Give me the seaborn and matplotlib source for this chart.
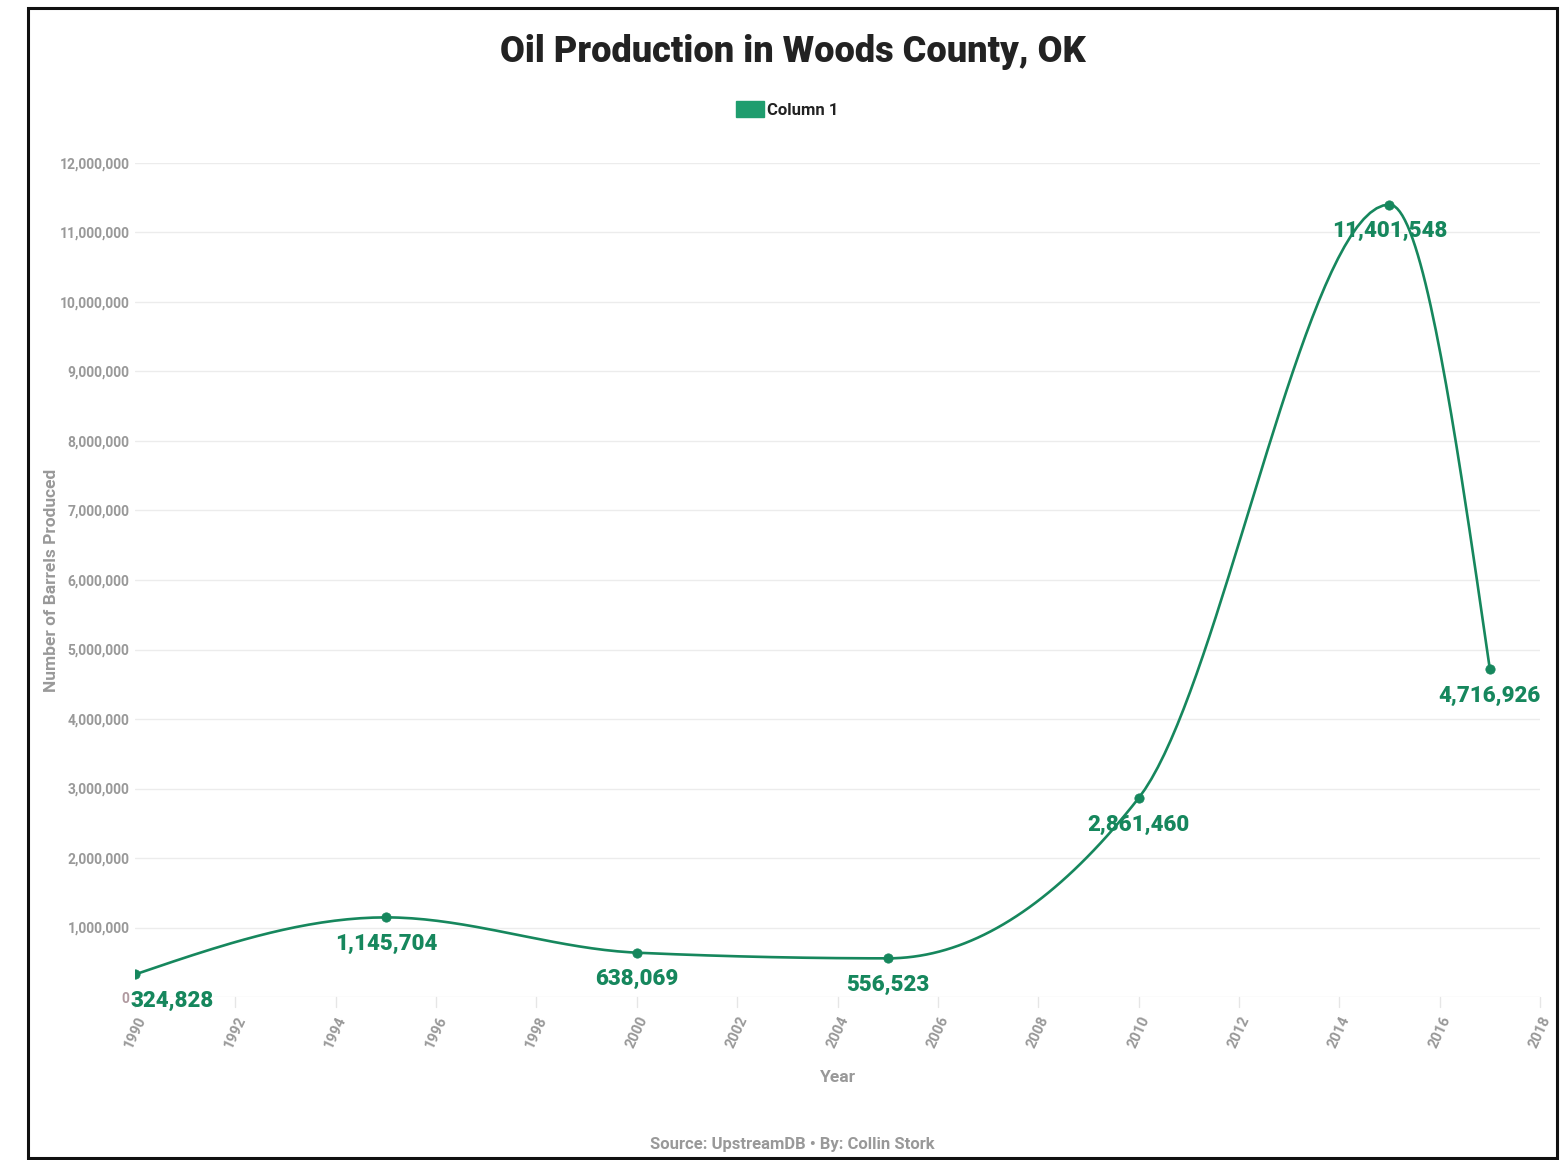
import numpy as np
import pandas as pd
import seaborn as sns
import matplotlib.pyplot as plt
from matplotlib.patches import Rectangle
from matplotlib.ticker import FuncFormatter

years = [1990, 1995, 2000, 2005, 2010, 2015, 2017]
barrels = [324828, 1145704, 638069, 556523, 2861460, 11401548, 4716926]
x_ticks = list(range(1990, 2019, 2))
y_ticks = list(range(0, 12000001, 1000000))

green = '#16875d'
legend_green = '#1f9d6e'
gray = '#999999'

sns.set_theme(style='white')
plt.rcParams['font.family'] = ['Roboto', 'DejaVu Sans']


def monotone_curve(x, y, n=40):
    # monotone cubic (like d3.curveMonotoneX), only used to draw the smooth line
    x = np.asarray(x, float)
    y = np.asarray(y, float)
    h = np.diff(x)
    s = np.diff(y) / h
    t = np.zeros(len(x))
    for i in range(1, len(x) - 1):
        p = (s[i - 1] * h[i] + s[i] * h[i - 1]) / (h[i - 1] + h[i])
        t[i] = (np.sign(s[i - 1]) + np.sign(s[i])) * min(abs(s[i - 1]), abs(s[i]), 0.5 * abs(p))
    t[0] = (3 * s[0] - t[1]) / 2
    t[-1] = (3 * s[-1] - t[-2]) / 2
    xs, ys = [], []
    for i in range(len(x) - 1):
        u = np.linspace(0, 1, n)
        h00 = 2 * u**3 - 3 * u**2 + 1
        h10 = u**3 - 2 * u**2 + u
        h01 = -2 * u**3 + 3 * u**2
        h11 = u**3 - u**2
        xs.extend(x[i] + u * h[i])
        ys.extend(h00 * y[i] + h10 * h[i] * t[i] + h01 * y[i + 1] + h11 * h[i] * t[i + 1])
    return np.array(xs), np.array(ys)


df = pd.DataFrame({'Year': years, 'Barrels': barrels})
cx, cy = monotone_curve(years, barrels)
curve = pd.DataFrame({'Year': cx, 'Barrels': cy})

fig = plt.figure(figsize=(15.63, 11.6), dpi=100)
ax = fig.add_axes([0.0864, 0.1405, 0.8989, 0.719])

sns.lineplot(data=curve, x='Year', y='Barrels', color=green, linewidth=1.9, ax=ax, sort=False)
sns.scatterplot(data=df, x='Year', y='Barrels', color=green, s=45, edgecolor=green, zorder=5, ax=ax)

for yr, val in zip(years, barrels):
    if yr == 1990:
        ax.annotate(f'{val:,}', (yr, val), xytext=(-3, -19), textcoords='offset points',
                    ha='left', va='center', fontsize=16, fontweight='heavy', color=green)
    else:
        ax.annotate(f'{val:,}', (yr, val), xytext=(0, -19), textcoords='offset points',
                    ha='center', va='center', fontsize=16, fontweight='heavy', color=green)

ax.set_xlim(1990, 2018)
ax.set_ylim(0, 12000000)
ax.set_xticks(x_ticks)
ax.set_yticks(y_ticks)
ax.yaxis.set_major_formatter(FuncFormatter(lambda v, p: f'{int(v):,}'))
ax.grid(axis='y', color='#ececec', linewidth=1)
for sp in ax.spines.values():
    sp.set_visible(False)
ax.tick_params(axis='y', length=0, labelsize=10, labelcolor=gray, pad=4)
ax.tick_params(axis='x', length=0, labelsize=10.5, labelcolor=gray, pad=12, labelrotation=65)
for lab in ax.get_yticklabels() + ax.get_xticklabels():
    lab.set_fontweight('bold')
for lab in ax.get_xticklabels():
    lab.set_ha('center')
for xt in x_ticks:
    ax.plot([xt, xt], [0, -150000], color='#e6e6e6', lw=1, clip_on=False)
ax.get_yticklabels()[0].set_color('#b09aa0')

ax.set_xlabel('Year', fontsize=12.5, fontweight='bold', color=gray, labelpad=14)
ax.set_ylabel('Number of Barrels Produced', fontsize=12.5, fontweight='bold', color=gray)
ax.yaxis.set_label_coords(-0.054, 0.5)

fig.text(0.507, 0.955, 'Oil Production in Woods County, OK', ha='center', va='center',
         fontsize=26, fontweight='heavy', color='#222222')
fig.patches.append(Rectangle((0.471, 0.8995), 0.0175, 0.0135, transform=fig.transFigure,
                             color=legend_green, figure=fig))
fig.text(0.491, 0.905, 'Column 1', ha='left', va='center', fontsize=12, fontweight='bold', color='#222222')
fig.text(0.507, 0.0135, 'Source: UpstreamDB \u2022 By: Collin Stork', ha='center', va='center',
         fontsize=12, fontweight='bold', color=gray)

fig.patches.append(Rectangle((0.018, 0.002), 0.978, 0.991, transform=fig.transFigure,
                             fill=False, edgecolor='#111111', linewidth=2.2, figure=fig))

fig.savefig('out.png', dpi=100)
